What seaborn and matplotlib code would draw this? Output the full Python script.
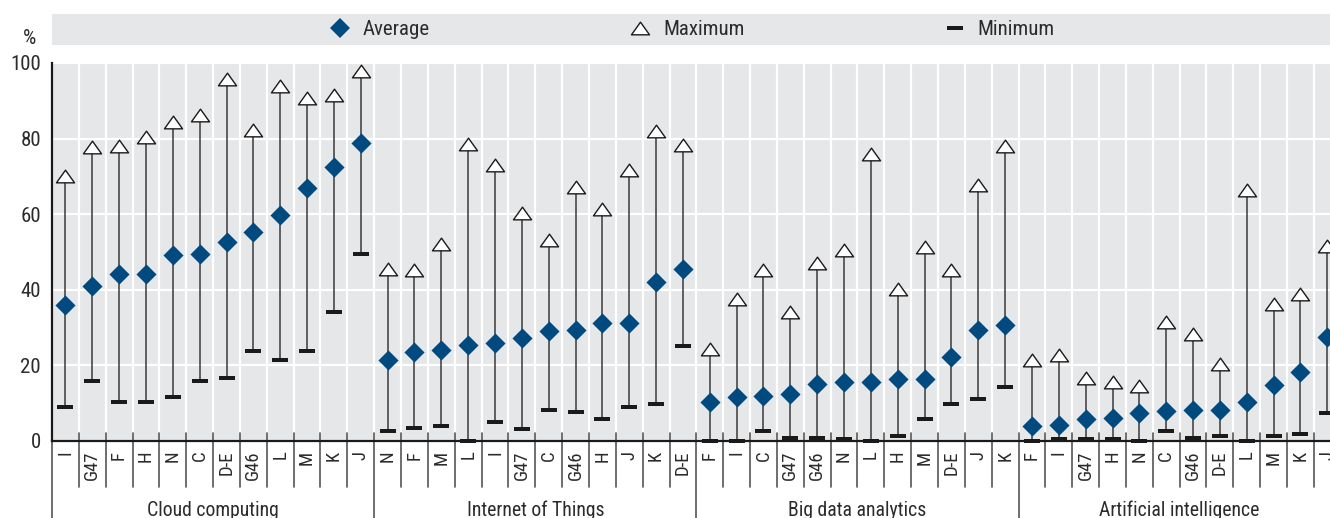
import numpy as np
import pandas as pd
import matplotlib.pyplot as plt
import matplotlib.transforms as mtransforms
from matplotlib import font_manager
from matplotlib.lines import Line2D
from matplotlib.patches import Rectangle
from matplotlib.path import Path
import seaborn as sns

# Values (% of firms)
groups = ["Cloud computing", "Internet of Things", "Big data analytics", "Artificial intelligence"]

cloud_sectors = ["I", "G47", "F", "H", "N", "C", "D-E", "G46", "L", "M", "K", "J"]
cloud_avg = [36.1, 41.0, 44.2, 44.2, 49.1, 49.5, 52.6, 55.4, 59.9, 67.0, 72.4, 78.8]
cloud_max = [70.0, 77.9, 78.0, 80.3, 84.5, 86.3, 95.7, 82.2, 94.0, 90.8, 91.6, 98.0]
cloud_min = [9.1, 15.8, 10.3, 10.3, 11.6, 15.8, 16.6, 23.8, 21.5, 23.8, 34.1, 49.4]

iot_sectors = ["N", "F", "M", "L", "I", "G47", "C", "G46", "H", "J", "K", "D-E"]
iot_avg = [21.4, 23.6, 24.1, 25.4, 25.8, 27.2, 29.1, 29.4, 31.2, 31.2, 42.1, 45.6]
iot_max = [45.6, 45.2, 52.0, 78.5, 73.0, 60.4, 53.2, 67.1, 61.4, 71.7, 82.0, 78.3]
iot_min = [2.6, 3.5, 4.1, 0.0, 4.9, 3.2, 8.1, 7.6, 5.8, 9.0, 9.9, 25.2]

bda_sectors = ["F", "I", "C", "G47", "G46", "N", "L", "H", "M", "D-E", "J", "K"]
bda_avg = [10.2, 11.6, 12.0, 12.5, 15.2, 15.5, 15.5, 16.5, 16.5, 22.3, 29.4, 30.8]
bda_max = [24.3, 37.6, 45.2, 34.0, 47.0, 50.5, 75.8, 40.3, 51.4, 45.2, 67.7, 78.0]
bda_min = [0.0, 0.0, 2.6, 0.9, 0.9, 0.5, 0.0, 1.4, 5.8, 9.9, 11.2, 14.3]

ai_sectors = ["F", "I", "G47", "H", "N", "C", "G46", "D-E", "L", "M", "K", "J"]
ai_avg = [3.9, 4.3, 5.7, 6.1, 7.5, 7.9, 8.3, 8.3, 10.2, 14.7, 18.3, 27.5]
ai_max = [21.4, 22.8, 16.6, 15.7, 14.6, 31.4, 28.2, 20.5, 66.4, 36.2, 38.9, 51.6]
ai_min = [0.0, 0.5, 0.5, 0.5, 0.0, 2.6, 0.9, 1.4, 0.0, 1.4, 1.9, 7.3]

# build one long table
parts = [
    (groups[0], cloud_sectors, cloud_avg, cloud_max, cloud_min),
    (groups[1], iot_sectors, iot_avg, iot_max, iot_min),
    (groups[2], bda_sectors, bda_avg, bda_max, bda_min),
    (groups[3], ai_sectors, ai_avg, ai_max, ai_min),
]
rows = []
for g, secs, av, mx, mn in parts:
    for s, a, hi, lo in zip(secs, av, mx, mn):
        rows.append({"group": g, "sector": s, "avg": a, "max": hi, "min": lo})
df = pd.DataFrame(rows)
df["pos"] = np.arange(len(df))

BG = "#e6e7e9"
BLUE = "#004a7f"
TXT = "#2b2b2b"

sns.set_style("white")
# narrow sans, pick the first one installed
installed = {f.name for f in font_manager.fontManager.ttflist}
narrow = [f for f in ["Liberation Sans Narrow", "Arial Narrow", "Roboto Condensed",
                      "Archivo Narrow", "Barlow Semi Condensed", "Asap Condensed"]
          if f in installed]
plt.rcParams["font.family"] = narrow[:1] + ["DejaVu Sans"]

W, H = 1330, 518
fig = plt.figure(figsize=(W / 100, H / 100), dpi=100)
ax = fig.add_axes([52 / W, 1 - 441 / H, 1 - 52 / W, (441 - 63) / H])
ax.set_facecolor(BG)

# marker shapes
tri = Path([(-1, -0.7), (1, -0.7), (0, 0.7), (-1, -0.7)],
           [Path.MOVETO, Path.LINETO, Path.LINETO, Path.CLOSEPOLY])
bar = Path([(-1, -0.28), (1, -0.28), (1, 0.28), (-1, 0.28), (-1, -0.28)],
           [Path.MOVETO, Path.LINETO, Path.LINETO, Path.LINETO, Path.CLOSEPOLY])

ax.vlines(df["pos"], df["min"], df["max"], color="#3a3a3a", lw=1.1, zorder=2)
sns.scatterplot(data=df, x="pos", y="min", marker=bar, s=135, color="#1a1a1a",
                linewidth=0, ax=ax, zorder=3, clip_on=False, legend=False)
sns.scatterplot(data=df, x="pos", y="max", marker=tri, s=170, color="white",
                edgecolor="#1a1a1a", linewidth=1.0, ax=ax, zorder=3, clip_on=False, legend=False)
sns.scatterplot(data=df, x="pos", y="avg", marker="D", s=105, color=BLUE,
                linewidth=0, ax=ax, zorder=4, clip_on=False, legend=False)

n = len(df)
ax.set_yticks(range(0, 101, 20))
ax.set_xticks(df["pos"])
ax.set_xticklabels(df["sector"], rotation=90, va="top", ha="center")
ax.set_xticks(np.arange(-0.5, n, 1), minor=True)
# the reference is cropped through the last category
ax.set_xlim(-0.5, 47.1)
ax.set_ylim(0, 100)
ax.set_xlabel("")
ax.set_ylabel("")
ax.set_axisbelow(True)
ax.yaxis.grid(True, color="white", lw=1.6)
ax.xaxis.grid(True, which="minor", color="white", lw=1.6)
ax.tick_params(axis="x", which="both", length=0, pad=7, labelsize=13.5, colors=TXT)
ax.tick_params(axis="y", length=0, pad=8, labelsize=15, colors=TXT)
for side in ["top", "right"]:
    ax.spines[side].set_visible(False)
for side in ["left", "bottom"]:
    ax.spines[side].set_color("#1a1a1a")
    ax.spines[side].set_linewidth(1.6)

# separators under the axis
trans = mtransforms.blended_transform_factory(ax.transData, ax.transAxes)
group_edges = [-0.5, 11.5, 23.5, 35.5]
for b in np.arange(-0.5, n, 1):
    low = -0.205 if b in group_edges else -0.122
    ax.plot([b, b], [0.02, low], transform=trans, color="#555555", lw=1.2,
            clip_on=False, zorder=1)
for i, g in enumerate(groups):
    ax.text(i * 12 + 5.5, -0.183, g, transform=trans, ha="center", va="center",
            fontsize=14.2, color=TXT)

fig.text(30 / W, 1 - 38 / H, "%", ha="center", va="center", fontsize=15, color=TXT)

# legend band
fig.patches.append(Rectangle((52 / W, 1 - 45 / H), 1 - 52 / W, 31 / H,
                             transform=fig.transFigure, facecolor=BG, edgecolor="none"))
handles = [
    Line2D([], [], ls="none", marker="D", ms=10, color=BLUE, mew=0),
    Line2D([], [], ls="none", marker=tri, ms=13, mfc="white", mec="#1a1a1a", mew=1.0),
    Line2D([], [], ls="none", marker=bar, ms=12, color="#1a1a1a", mew=0),
]
fig.legend(handles, ["Average", "Maximum", "Minimum"], loc="center",
           bbox_to_anchor=(692 / W, 1 - 29.5 / H), ncol=3, frameon=False,
           fontsize=15, columnspacing=9.6, handlelength=1.0, handletextpad=0.6,
           labelcolor=TXT)

fig.savefig("out.png", dpi=100)
